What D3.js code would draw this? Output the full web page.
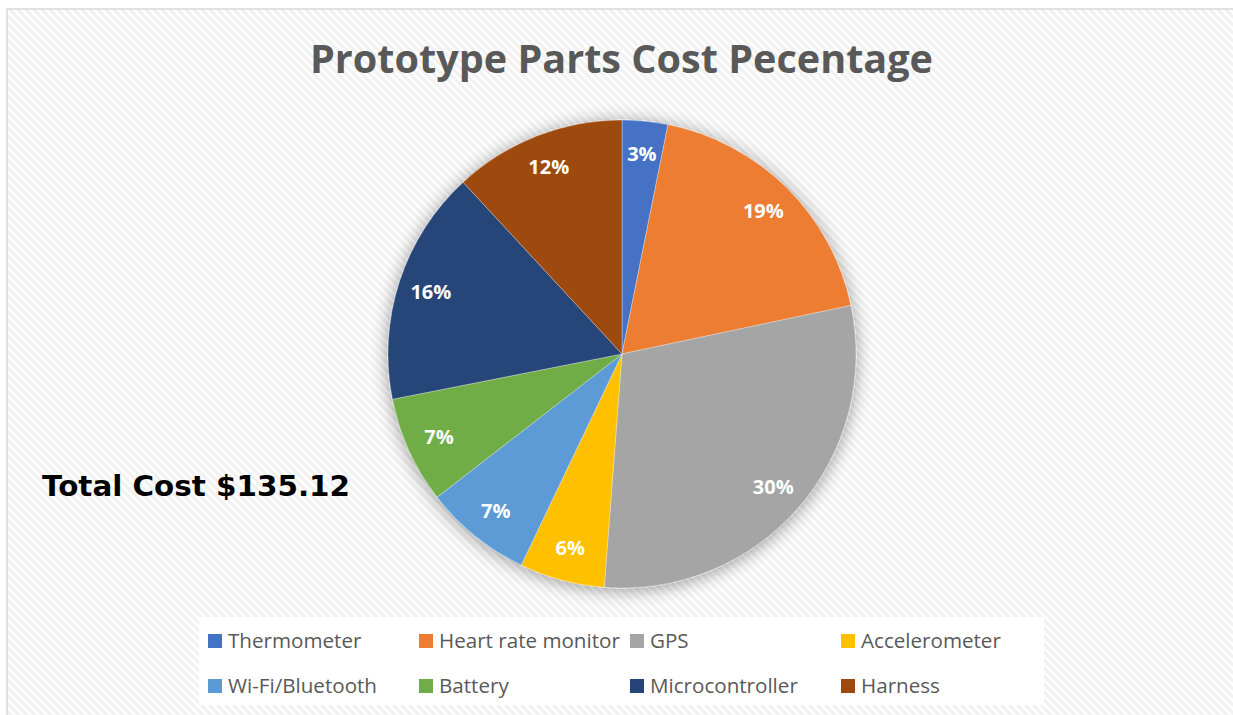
<!DOCTYPE html>
<html>
<head>
<meta charset="utf-8">
<script src="https://cdn.jsdelivr.net/npm/d3@7/dist/d3.min.js"></script>
<style>
  html, body { margin: 0; padding: 0; background: #ffffff; }
  svg { display: block; }
</style>
</head>
<body>
<svg id="chart" width="1233" height="715"></svg>
<script>
// ---- data ----
const categories = ["Thermometer", "Heart rate monitor", "GPS", "Accelerometer",
                    "Wi-Fi/Bluetooth", "Battery", "Microcontroller", "Harness"];
const shares = [3.15, 18.52, 29.54, 5.88, 7.42, 7.39, 16.22, 11.88]; // percent of total cost
const colors = ["#4472C4", "#ED7D31", "#A5A5A5", "#FFC000",
                "#5B9BD5", "#70AD47", "#264478", "#9E480E"];
const titleText = "Prototype Parts Cost Pecentage";
const totalText = "Total Cost $135.12";

// ---- layout ----
const W = 1233, H = 715;
const cx = 622, cy = 354, R = 234;

const svg = d3.select("#chart");
const defs = svg.append("defs");

// diagonal background pattern
const pat = defs.append("pattern")
  .attr("id", "diag").attr("patternUnits", "userSpaceOnUse")
  .attr("width", 8).attr("height", 8);
pat.append("rect").attr("width", 8).attr("height", 8).attr("fill", "#ffffff");
pat.append("path")
  .attr("d", "M-2,-2 L10,10 M-2,6 L2,10 M6,-2 L10,2")
  .attr("stroke", "#f1f1f1").attr("stroke-width", 3).attr("fill", "none");

// soft shadow around pie
const f = defs.append("filter").attr("id", "glow")
  .attr("x", "-20%").attr("y", "-20%").attr("width", "140%").attr("height", "140%");
f.append("feGaussianBlur").attr("in", "SourceAlpha").attr("stdDeviation", 9).attr("result", "b");
f.append("feOffset").attr("in", "b").attr("dx", 0).attr("dy", 2).attr("result", "o");
f.append("feComponentTransfer").attr("in", "o").attr("result", "s")
  .append("feFuncA").attr("type", "linear").attr("slope", 0.4);
const fm = f.append("feMerge");
fm.append("feMergeNode").attr("in", "s");
fm.append("feMergeNode").attr("in", "SourceGraphic");

// chart area with border (top and left visible)
svg.append("rect").attr("x", 0).attr("y", 0).attr("width", W).attr("height", H).attr("fill", "#ffffff");
svg.append("rect").attr("x", 7).attr("y", 9).attr("width", W - 7).attr("height", H - 9).attr("fill", "url(#diag)");
svg.append("line").attr("x1", 7).attr("y1", 9).attr("x2", W).attr("y2", 9)
  .attr("stroke", "#d9d9d9").attr("stroke-width", 1.5);
svg.append("line").attr("x1", 7).attr("y1", 9).attr("x2", 7).attr("y2", H)
  .attr("stroke", "#d9d9d9").attr("stroke-width", 1.5);

// title
svg.append("text")
  .attr("x", 621.5).attr("y", 73)
  .attr("text-anchor", "middle")
  .attr("font-family", "'Open Sans', sans-serif")
  .attr("font-weight", "bold")
  .attr("font-size", 40)
  .attr("fill", "#595959")
  .attr("textLength", 623).attr("lengthAdjust", "spacingAndGlyphs")
  .text(titleText);

// pie
const pie = d3.pie().sort(null).value(d => d);
const arcs = pie(shares);
const arc = d3.arc().innerRadius(0).outerRadius(R);
const labelArc = d3.arc().innerRadius(201).outerRadius(201);

const g = svg.append("g").attr("transform", `translate(${cx},${cy})`);
const slices = g.append("g").attr("filter", "url(#glow)");
slices.selectAll("path").data(arcs).join("path")
  .attr("d", arc)
  .attr("fill", (d, i) => colors[i])
  .attr("stroke", "#ffffff").attr("stroke-opacity", 0.45).attr("stroke-width", 0.7);

g.selectAll("text.lbl").data(arcs).join("text")
  .attr("class", "lbl")
  .attr("transform", d => `translate(${labelArc.centroid(d)})`)
  .attr("text-anchor", "middle")
  .attr("dy", "0.36em")
  .attr("font-family", "'Open Sans', sans-serif")
  .attr("font-weight", "bold")
  .attr("font-size", 20)
  .attr("fill", "#ffffff")
  .text(d => Math.round(d.data) + "%");

// total cost note
svg.append("text")
  .attr("x", 42).attr("y", 496)
  .attr("font-family", "'DejaVu Sans', Verdana, sans-serif")
  .attr("font-weight", "bold")
  .attr("font-size", 28)
  .attr("fill", "#000000")
  .attr("textLength", 308).attr("lengthAdjust", "spacingAndGlyphs")
  .text(totalText);

// legend
svg.append("rect").attr("x", 199).attr("y", 617).attr("width", 845).attr("height", 88).attr("fill", "#ffffff");
const colX = [208, 419, 630, 841];
const rowY = [641, 686];
const leg = svg.append("g");
categories.forEach((c, i) => {
  const x = colX[i % 4], y = rowY[Math.floor(i / 4)];
  leg.append("rect").attr("x", x).attr("y", y - 7).attr("width", 14).attr("height", 14).attr("fill", colors[i]);
  leg.append("text")
    .attr("x", x + 20).attr("y", y + 7)
    .attr("font-family", "'Open Sans', sans-serif")
    .attr("font-size", 20.6)
    .attr("fill", "#595959")
    .text(c);
});
</script>
</body>
</html>
